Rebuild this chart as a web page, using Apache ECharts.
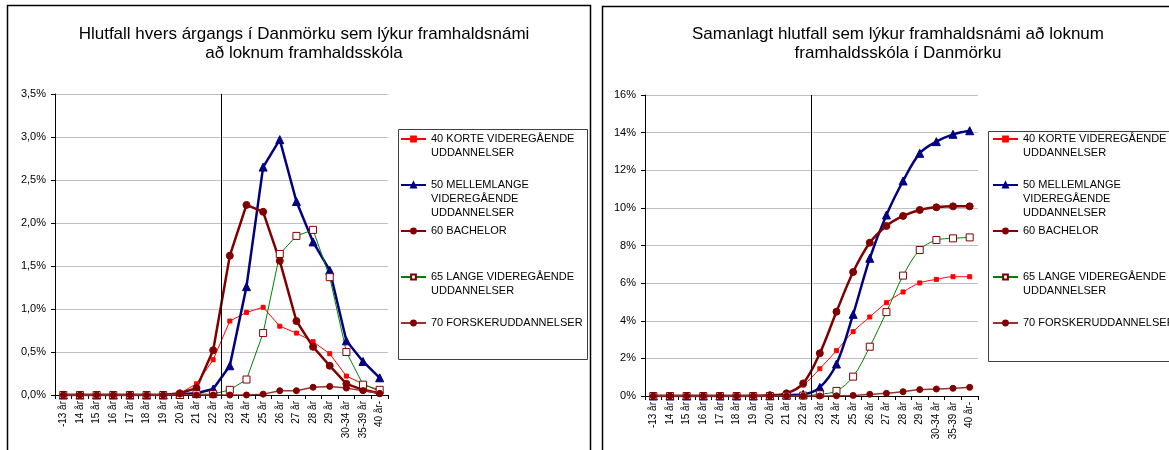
<!DOCTYPE html>
<html>
<head>
<meta charset="utf-8">
<style>
  html, body { margin: 0; padding: 0; background: #fff; }
  #chart { width: 1169px; height: 450px; }
</style>
<script src="https://cdn.jsdelivr.net/npm/echarts@6/dist/echarts.min.js"></script>
</head>
<body>
<div id="chart"></div>
<script>
// aldursflokkar (x-ás)
var categories = ['-13 år', '14 år', '15 år', '16 år', '17 år', '18 år', '19 år', '20 år', '21 år', '22 år',
    '23 år', '24 år', '25 år', '26 år', '27 år', '28 år', '29 år', '30-34 år', '35-39 år', '40 år-'];
// lóðrétta línan er á milli 22 og 23 ára
var cutoffCategory = '23 år';

var seriesNames = [
    '40 KORTE VIDEREGÅENDE\nUDDANNELSER',
    '50 MELLEMLANGE\nVIDEREGÅENDE\nUDDANNELSER',
    '60 BACHELOR',
    '65 LANGE VIDEREGÅENDE\nUDDANNELSER',
    '70 FORSKERUDDANNELSER'
];

// hlutfall hvers árgangs (%), vinstri mynd
var korteAar     = [0, 0, 0, 0, 0, 0, 0, 0.02, 0.13, 0.41, 0.86, 0.96, 1.02, 0.80, 0.72, 0.62, 0.48, 0.22, 0.13, 0.04];
var mellemAar    = [0, 0, 0, 0, 0, 0, 0, 0.01, 0.02, 0.07, 0.34, 1.26, 2.65, 2.97, 2.25, 1.78, 1.45, 0.63, 0.39, 0.20];
var bachelorAar  = [0, 0, 0, 0, 0, 0, 0, 0.02, 0.08, 0.52, 1.62, 2.21, 2.13, 1.56, 0.86, 0.56, 0.34, 0.13, 0.06, 0.02];
var langeAar     = [0, 0, 0, 0, 0, 0, 0, 0, 0.01, 0.01, 0.06, 0.18, 0.72, 1.64, 1.85, 1.92, 1.37, 0.50, 0.12, 0.06];
var forskerAar   = [0, 0, 0, 0, 0, 0, 0, 0.01, 0, 0, 0, 0, 0.01, 0.05, 0.05, 0.09, 0.10, 0.08, 0.05, 0.02];

// samanlagt hlutfall (%), hægri mynd
var korteSum     = [0, 0, 0, 0, 0, 0, 0, 0.03, 0.14, 0.58, 1.45, 2.41, 3.42, 4.20, 4.96, 5.53, 6.01, 6.20, 6.34, 6.34];
var mellemSum    = [0, 0, 0, 0, 0, 0, 0, 0.01, 0.05, 0.09, 0.46, 1.70, 4.34, 7.32, 9.62, 11.43, 12.90, 13.52, 13.91, 14.10];
var bachelorSum  = [0, 0, 0, 0, 0, 0, 0.01, 0.04, 0.14, 0.67, 2.27, 4.48, 6.59, 8.15, 9.04, 9.57, 9.89, 10.03, 10.08, 10.08];
var langeSum     = [0, 0, 0, 0, 0, 0, 0, 0, 0.01, 0.02, 0.09, 0.27, 1.03, 2.62, 4.46, 6.40, 7.76, 8.29, 8.38, 8.43];
var forskerSum   = [0, 0, 0, 0, 0, 0, 0, 0, 0, 0, 0, 0.01, 0.03, 0.09, 0.14, 0.23, 0.34, 0.37, 0.41, 0.46];

var titleLeft = 'Hlutfall hvers árgangs í Danmörku sem lýkur framhaldsnámi\nað loknum framhaldsskóla';
var titleRight = 'Samanlagt hlutfall sem lýkur framhaldsnámi að loknum\nframhaldsskóla í Danmörku';

var FONT = '"Liberation Sans", Arial, sans-serif';

// útlit hverrar raðar
var styles = [
    { line: '#ff0000', width: 1, symbol: 'rect', size: 4, fill: '#ff0000', border: '#ff0000' },
    { line: '#000080', width: 2.5, symbol: 'triangle', size: 8, fill: '#000080', border: '#000080' },
    { line: '#800000', width: 2.5, symbol: 'circle', size: 7, fill: '#800000', border: '#800000' },
    { line: '#008000', width: 1, symbol: 'rect', size: 7, fill: '#ffffff', border: '#800000' },
    { line: '#993333', width: 1.5, symbol: 'circle', size: 6, fill: '#800000', border: '#800000' }
];

function makeSeries(dataList, gridIdx, smooth) {
    return dataList.map(function (d, i) {
        var s = styles[i];
        return {
            name: seriesNames[i],
            type: 'line',
            xAxisIndex: gridIdx,
            yAxisIndex: gridIdx,
            data: d,
            smooth: smooth ? 0.35 : false,
            symbol: s.symbol,
            symbolSize: s.size,
            showAllSymbol: true,
            lineStyle: { color: s.line, width: s.width },
            itemStyle: { color: s.fill, borderColor: s.border, borderWidth: 1 },
            emphasis: { disabled: true },
            animation: false
        };
    });
}

// lóðrétt lína á mörkum flokka, teiknuð á falinn gildisás
function cutoffSeries(gridIdx) {
    return {
        type: 'line',
        xAxisIndex: gridIdx + 2,
        yAxisIndex: gridIdx,
        data: [],
        silent: true,
        animation: false,
        markLine: {
            silent: true,
            symbol: ['none', 'none'],
            label: { show: false },
            lineStyle: { color: '#000', width: 1, type: 'solid' },
            data: [{ xAxis: categories.indexOf(cutoffCategory) }]
        }
    };
}

function catAxis(gridIdx) {
    return {
        type: 'category',
        gridIndex: gridIdx,
        data: categories,
        boundaryGap: true,
        axisLine: { lineStyle: { color: '#000', width: 1 } },
        axisTick: { show: true, interval: 0, length: 4, lineStyle: { color: '#000' } },
        axisLabel: { interval: 0, rotate: 90, fontSize: 10, margin: 6, color: '#000', fontFamily: FONT },
        splitLine: { show: false }
    };
}

function hiddenAxis(gridIdx) {
    return { type: 'value', gridIndex: gridIdx, min: 0, max: categories.length, show: false };
}

function valAxis(gridIdx, max, interval, fmt) {
    return {
        type: 'value',
        gridIndex: gridIdx,
        min: 0,
        max: max,
        interval: interval,
        axisLine: { show: true, lineStyle: { color: '#000', width: 1 } },
        axisTick: { show: true, length: 4, lineStyle: { color: '#000' } },
        axisLabel: { fontSize: 11, margin: 9, color: '#000', fontFamily: FONT, formatter: fmt },
        splitLine: { show: true, lineStyle: { color: '#c0c0c0', width: 1 } }
    };
}

// ein skýring fyrir hvert atriði, fyrsta lína við táknið
var legendCenters = [139, 185, 231, 277, 323];
function makeLegends(x) {
    return seriesNames.map(function (name, i) {
        var n = name.split('\n').length;
        return {
            data: [name],
            orient: 'vertical',
            left: x,
            top: legendCenters[i] - (2 * n - 1) * 7,
            padding: 0,
            itemWidth: 25,
            itemHeight: 6,
            selectedMode: false,
            formatter: function (nm) {
                return new Array(n).join('\n') + nm;
            },
            textStyle: { fontSize: 11, lineHeight: 14, color: '#000', fontFamily: FONT }
        };
    });
}

var chart = echarts.init(document.getElementById('chart'));

var option = {
    backgroundColor: '#fff',
    animation: false,
    title: [
        { text: titleLeft, left: 299, top: 20, textAlign: 'center',
          textStyle: { fontSize: 17, fontWeight: 'normal', lineHeight: 19, color: '#000', fontFamily: FONT } },
        { text: titleRight, left: 893, top: 20, textAlign: 'center',
          textStyle: { fontSize: 17, fontWeight: 'normal', lineHeight: 19, color: '#000', fontFamily: FONT } }
    ],
    legend: makeLegends(400).concat(makeLegends(992)),
    grid: [
        { left: 55, top: 94, width: 333, height: 301 },
        { left: 645, top: 95, width: 333, height: 301 }
    ],
    xAxis: [catAxis(0), catAxis(1), hiddenAxis(0), hiddenAxis(1)],
    yAxis: [
        valAxis(0, 3.5, 0.5, function (v) { return v.toFixed(1).replace('.', ',') + '%'; }),
        valAxis(1, 16, 2, function (v) { return v + '%'; })
    ],
    graphic: [
        { type: 'rect', silent: true, shape: { x: 7.5, y: 5.5, width: 583, height: 470 },
          style: { fill: 'none', stroke: '#000', lineWidth: 1.5 } },
        { type: 'rect', silent: true, shape: { x: 602.5, y: 6.5, width: 600, height: 470 },
          style: { fill: 'none', stroke: '#000', lineWidth: 1.5 } },
        { type: 'rect', silent: true, shape: { x: 398.5, y: 129.5, width: 189, height: 230 },
          style: { fill: 'none', stroke: '#404040', lineWidth: 1 } },
        { type: 'rect', silent: true, shape: { x: 988.5, y: 131.5, width: 220, height: 230 },
          style: { fill: 'none', stroke: '#404040', lineWidth: 1 } }
    ],
    series: makeSeries([korteAar, mellemAar, bachelorAar, langeAar, forskerAar], 0, false)
        .concat(makeSeries([korteSum, mellemSum, bachelorSum, langeSum, forskerSum], 1, true))
        .concat([cutoffSeries(0), cutoffSeries(1)])
};

chart.setOption(option);
</script>
</body>
</html>
